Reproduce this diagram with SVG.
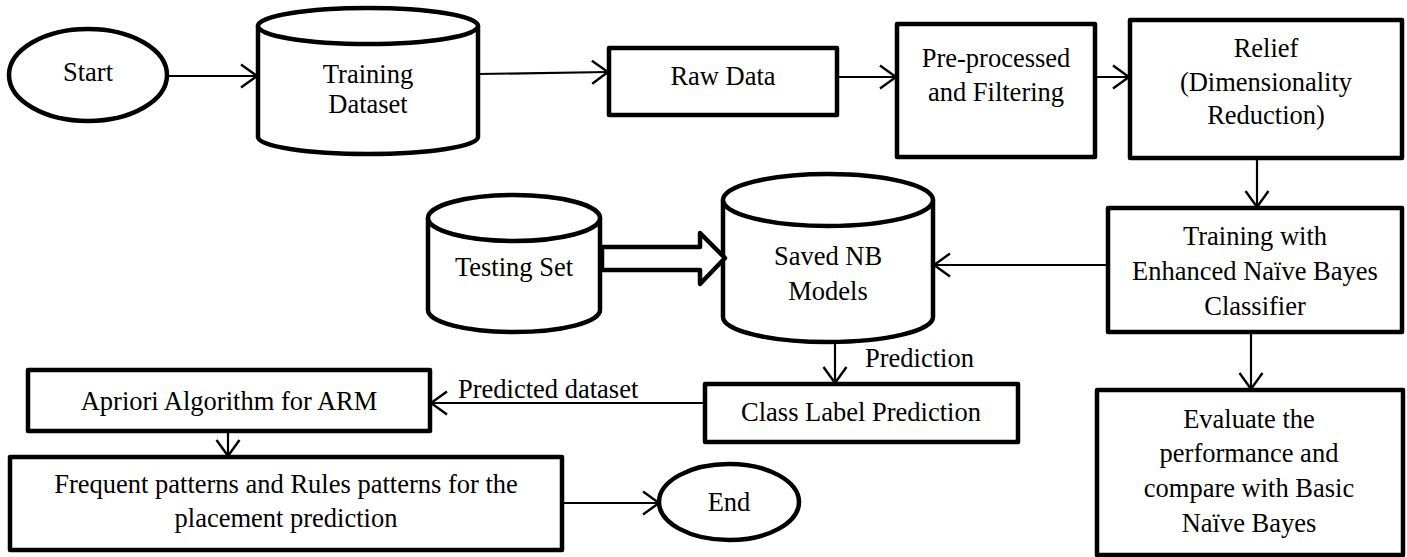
<svg xmlns="http://www.w3.org/2000/svg" width="1407" height="557" viewBox="0 0 1407 557">
<style>
.n{fill:#fff;stroke:#000;stroke-width:4.5;stroke-linejoin:round}
.t{font-family:"Liberation Serif","Times New Roman",serif;font-size:26.5px;fill:#000;text-anchor:middle}
.l{font-family:"Liberation Serif","Times New Roman",serif;font-size:26.5px;fill:#000}
.c{fill:none;stroke:#000;stroke-width:2.2;marker-end:url(#ah)}
</style>
<defs>
<marker id="ah" viewBox="0 0 20 26" refX="18" refY="13" markerWidth="20" markerHeight="26" markerUnits="userSpaceOnUse" orient="auto">
<path d="M2,1.5 L18,13 L2,24.5" fill="none" stroke="#000" stroke-width="2.4"/>
</marker>
</defs>
<rect width="1407" height="557" fill="#fff"/>
<g id="connectors">
<path class="c" d="M167,76 L257,76"/>
<path class="c" d="M478,74 L608,72"/>
<path class="c" d="M837,77 L896,77"/>
<path class="c" d="M1095,77 L1129,77"/>
<path class="c" d="M1257,158 L1257,207"/>
<path class="c" d="M1108,265 L934,265"/>
<path class="c" d="M1251,332 L1251,389"/>
<path class="c" d="M835,343 L835,383"/>
<path class="c" d="M705,403 L431,403"/>
<path class="c" d="M228,431 L228,456"/>
<path class="c" d="M562,503 L659,503"/>
<text class="l" x="865" y="367">Prediction</text>
<text class="l" x="458" y="398">Predicted dataset</text>
</g>
<g id="start">
<ellipse class="n" cx="88" cy="75" rx="79" ry="46"/>
<text class="t" x="88" y="81">Start</text>
</g>
<g id="training-dataset">
<path class="n" d="M258,26 L258,137 A110,17 0 0 0 478,137 L478,26 Z"/>
<ellipse class="n" cx="368" cy="26" rx="110" ry="18"/>
<text class="t" x="368" y="83">Training</text>
<text class="t" x="368" y="113">Dataset</text>
</g>
<g id="raw-data">
<rect class="n" x="609" y="48" width="228" height="67"/>
<text class="t" x="723" y="85">Raw Data</text>
</g>
<g id="preprocessed">
<rect class="n" x="897" y="24" width="198" height="133"/>
<text class="t" x="996" y="67">Pre-processed</text>
<text class="t" x="996" y="101">and Filtering</text>
</g>
<g id="relief">
<rect class="n" x="1130" y="20" width="272" height="138"/>
<text class="t" x="1266" y="57">Relief</text>
<text class="t" x="1266" y="91">(Dimensionality</text>
<text class="t" x="1266" y="124">Reduction)</text>
</g>
<g id="training-nb">
<rect class="n" x="1108" y="208" width="294" height="124"/>
<text class="t" x="1255" y="245">Training with</text>
<text class="t" x="1255" y="280">Enhanced Naïve Bayes</text>
<text class="t" x="1255" y="315">Classifier</text>
</g>
<g id="evaluate">
<rect class="n" x="1097" y="390" width="306" height="165"/>
<text class="t" x="1249" y="428">Evaluate the</text>
<text class="t" x="1249" y="462">performance and</text>
<text class="t" x="1249" y="497">compare with Basic</text>
<text class="t" x="1249" y="532">Naïve Bayes</text>
</g>
<g id="testing-set">
<path class="n" d="M428,218 L428,310 A86,22 0 0 0 600,310 L600,218 Z"/>
<ellipse class="n" cx="514" cy="218" rx="86" ry="23"/>
<text class="t" x="514" y="276">Testing Set</text>
</g>
<g id="saved-nb">
<path class="n" d="M723,200 L723,317 A105,25 0 0 0 933,317 L933,200 Z"/>
<ellipse class="n" cx="828" cy="200" rx="105" ry="26"/>
<text class="t" x="828" y="265">Saved NB</text>
<text class="t" x="828" y="300">Models</text>
</g>
<g id="block-arrow">
<polygon class="n" points="602,247 700,247 700,233 725,258 700,284 700,270 602,270"/>
</g>
<g id="class-label">
<rect class="n" x="705" y="384" width="313" height="58"/>
<text class="t" x="861" y="421">Class Label Prediction</text>
</g>
<g id="apriori">
<rect class="n" x="28" y="370" width="402" height="61"/>
<text class="t" x="229" y="410">Apriori Algorithm for ARM</text>
</g>
<g id="frequent">
<rect class="n" x="10" y="457" width="552" height="93"/>
<text class="t" x="286" y="493">Frequent patterns and Rules patterns for the</text>
<text class="t" x="286" y="527">placement prediction</text>
</g>
<g id="end">
<ellipse class="n" cx="729" cy="502" rx="70" ry="38"/>
<text class="t" x="729" y="511">End</text>
</g>
</svg>
